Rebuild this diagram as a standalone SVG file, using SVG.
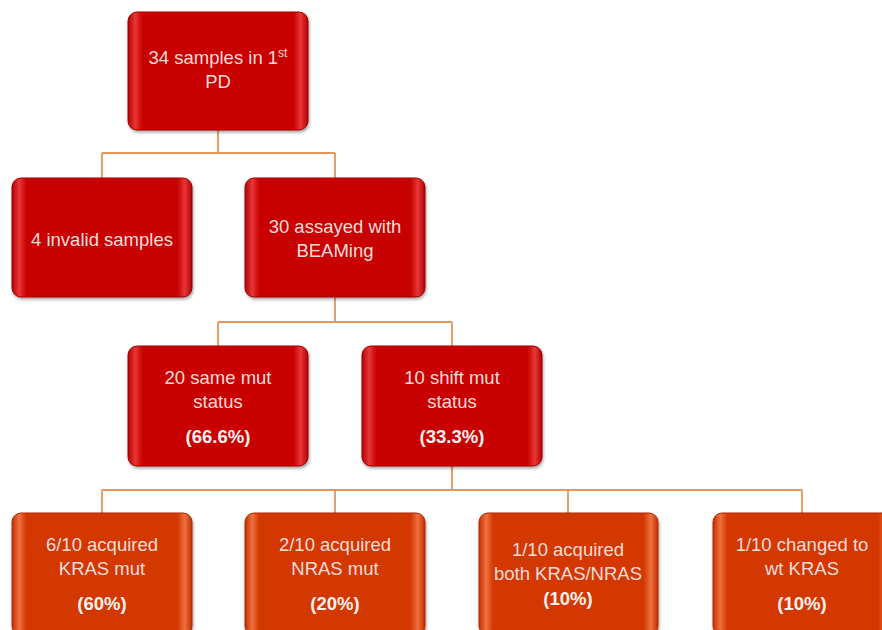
<svg xmlns="http://www.w3.org/2000/svg" width="882" height="630" viewBox="0 0 882 630">
<defs>
<linearGradient id="gRed" x1="0" y1="0" x2="1" y2="0">
<stop offset="0" stop-color="#B00000"/>
<stop offset="0.04" stop-color="#E83838"/>
<stop offset="0.08" stop-color="#C80000"/>
<stop offset="0.92" stop-color="#C80000"/>
<stop offset="0.96" stop-color="#E83838"/>
<stop offset="1" stop-color="#B00000"/>
</linearGradient>
<linearGradient id="gOrg" x1="0" y1="0" x2="1" y2="0">
<stop offset="0" stop-color="#C03000"/>
<stop offset="0.04" stop-color="#F07040"/>
<stop offset="0.08" stop-color="#D23800"/>
<stop offset="0.92" stop-color="#D23800"/>
<stop offset="0.96" stop-color="#F07040"/>
<stop offset="1" stop-color="#C03000"/>
</linearGradient>
<filter id="sh" x="-10%" y="-10%" width="120%" height="125%">
<feDropShadow dx="1" dy="2" stdDeviation="1.5" flood-color="#000" flood-opacity="0.35"/>
</filter>
</defs>
<style>
.red{fill:url(#gRed);stroke:#A00000;stroke-width:1;filter:url(#sh)}
.org{fill:url(#gOrg);stroke:#B02800;stroke-width:1;filter:url(#sh)}
text{font-family:"Liberation Sans",Arial,sans-serif;font-size:18.5px;fill:#F8DCDC;text-anchor:middle}
.b{font-weight:bold;fill:#FFF0F0}
.conn{fill:none;stroke:#E8955A;stroke-width:1.8}
</style>
<rect width="882" height="630" fill="#FFFFFF"/>
<g id="connectors">
<path class="conn" d="M218 130V153M102 153H335M102 153V178M335 153V178"/>
<path class="conn" d="M335 297V322M218 322H452M218 322V346M452 322V346"/>
<path class="conn" d="M452 466V490M102 490H802M102 490V513M335 490V513M568 490V513M802 490V513"/>
</g>
<g id="n1"><rect class="red" x="128" y="12" width="180" height="118" rx="9"/>
<text x="218" y="64">34 samples  in 1<tspan font-size="12" dy="-7">st</tspan></text><text x="218" y="88">PD</text></g>
<g id="n2"><rect class="red" x="12" y="178" width="180" height="119" rx="9"/>
<text x="102" y="246">4 invalid samples</text></g>
<g id="n3"><rect class="red" x="245" y="178" width="180" height="119" rx="9"/>
<text x="335" y="233">30 assayed with</text><text x="335" y="257">BEAMing</text></g>
<g id="n4"><rect class="red" x="128" y="346" width="180" height="120" rx="9"/>
<text x="218" y="384">20 same mut</text><text x="218" y="408">status</text><text class="b" x="218" y="443">(66.6%)</text></g>
<g id="n5"><rect class="red" x="362" y="346" width="180" height="120" rx="9"/>
<text x="452" y="384">10 shift mut</text><text x="452" y="408">status</text><text class="b" x="452" y="443">(33.3%)</text></g>
<g id="n6"><rect class="org" x="12" y="513" width="180" height="122" rx="9"/>
<text x="102" y="551">6/10 acquired</text><text x="102" y="575">KRAS mut</text><text class="b" x="102" y="610">(60%)</text></g>
<g id="n7"><rect class="org" x="245" y="513" width="180" height="122" rx="9"/>
<text x="335" y="551">2/10 acquired</text><text x="335" y="575">NRAS mut</text><text class="b" x="335" y="610">(20%)</text></g>
<g id="n8"><rect class="org" x="479" y="513" width="179" height="122" rx="9"/>
<text x="568" y="556">1/10 acquired</text><text x="568" y="580">both KRAS/NRAS</text><text class="b" x="568" y="605">(10%)</text></g>
<g id="n9"><rect class="org" x="713" y="513" width="180" height="122" rx="9"/>
<text x="802" y="551">1/10 changed to</text><text x="802" y="575">wt KRAS</text><text class="b" x="802" y="610">(10%)</text></g>
</svg>
